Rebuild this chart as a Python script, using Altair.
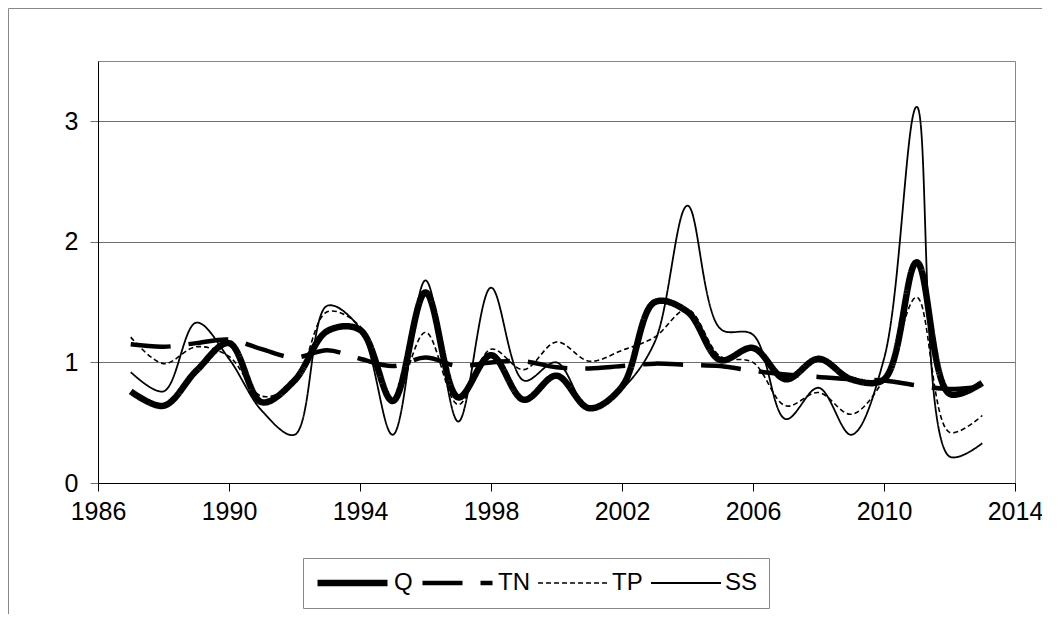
import altair as alt
import pandas as pd

years = list(range(1987, 2014))
series_names = ["Q", "TN", "TP", "SS"]

q_vals = [0.76, 0.64, 0.93, 1.16, 0.67, 0.85, 1.26, 1.27, 0.68, 1.58, 0.71, 1.06, 0.69, 0.89,
          0.62, 0.80, 1.50, 1.42, 1.02, 1.12, 0.86, 1.03, 0.86, 0.86, 1.83, 0.74, 0.83]
tn_vals = [1.15, 1.13, 1.16, 1.19, 1.11, 1.04, 1.10, 1.03, 0.97, 1.04, 0.97, 1.00, 1.01, 0.96,
           0.95, 0.97, 0.99, 0.98, 0.97, 0.93, 0.90, 0.88, 0.86, 0.85, 0.81, 0.78, 0.80]
tp_vals = [1.21, 0.99, 1.13, 1.05, 0.72, 0.83, 1.42, 1.30, 0.70, 1.25, 0.65, 1.11, 0.94, 1.17,
           1.01, 1.10, 1.21, 1.44, 1.05, 1.00, 0.64, 0.75, 0.57, 0.86, 1.54, 0.42, 0.56]
ss_vals = [0.92, 0.76, 1.33, 1.03, 0.60, 0.40, 1.47, 1.28, 0.40, 1.68, 0.51, 1.62, 0.85, 1.00,
           0.61, 0.78, 1.17, 2.30, 1.28, 1.23, 0.53, 0.79, 0.40, 1.03, 3.12, 0.22, 0.33]

x_ticks = [1986, 1990, 1994, 1998, 2002, 2006, 2010, 2014]
y_ticks = [0, 1, 2, 3]

rows = []
for name, vals in zip(series_names, [q_vals, tn_vals, tp_vals, ss_vals]):
    for yr, v in zip(years, vals):
        rows.append({"year": yr, "value": v, "series": name})
df = pd.DataFrame(rows)
df["order"] = df["series"].map({"SS": 0, "TP": 1, "TN": 2, "Q": 3})

FONT = "Liberation Sans"

frame = alt.Chart(pd.DataFrame({"k": [0]})).mark_rect(
    fill=None, stroke="#888888", strokeWidth=1, clip=False
).encode(
    x=alt.value(-89.5), x2=alt.value(2000), y=alt.value(-52.5), y2=alt.value(2000)
)

lines = alt.Chart(df).mark_line(interpolate="catmull-rom", color="black", clip=False).encode(
    x=alt.X("year:Q", scale=alt.Scale(domain=[1986, 2014], nice=False, zero=False),
            axis=alt.Axis(values=x_ticks, format="d", title=None, grid=False,
                          labelFont=FONT, labelFontSize=25, labelColor="black",
                          domainColor="black", tickColor="black", tickSize=8,
                          labelPadding=8, labelFlush=False)),
    y=alt.Y("value:Q", scale=alt.Scale(domain=[0, 3.5], nice=False),
            axis=alt.Axis(values=y_ticks, title=None, grid=True, gridColor="#6f6f6f",
                          gridWidth=1, labelFont=FONT, labelFontSize=25, labelColor="black",
                          domainColor="black", tickColor="#6f6f6f", tickSize=8,
                          labelPadding=12)),
    strokeWidth=alt.StrokeWidth("series:N",
                                scale=alt.Scale(type="ordinal", domain=series_names,
                                                range=[6.5, 4.5, 1.6, 1.8]),
                                legend=alt.Legend(title=None)),
    strokeDash=alt.StrokeDash("series:N",
                              scale=alt.Scale(domain=series_names,
                                              range=[[1, 0], [40, 18], [5, 3], [1, 0]]),
                              legend=alt.Legend(title=None)),
    detail="series:N",
    order="order:Q",
)

chart = alt.layer(frame, lines).properties(
    width=917, height=422,
    autosize=alt.AutoSizeParams(type="none"),
    padding={"left": 90, "top": 53, "right": 27, "bottom": 131},
).configure_view(
    stroke="#888888", strokeWidth=1
).configure_legend(
    orient="none", legendX=205, legendY=497, direction="horizontal",
    symbolType="stroke", symbolSize=4900, symbolStrokeColor="black",
    clipHeight=28, labelBaseline="middle",
    labelFont=FONT, labelFontSize=24, labelColor="black", labelOffset=3,
    strokeColor="#888888", padding=11, columnPadding=7,
)

chart.save("out.html", embed_options={"renderer": "svg", "actions": False})
